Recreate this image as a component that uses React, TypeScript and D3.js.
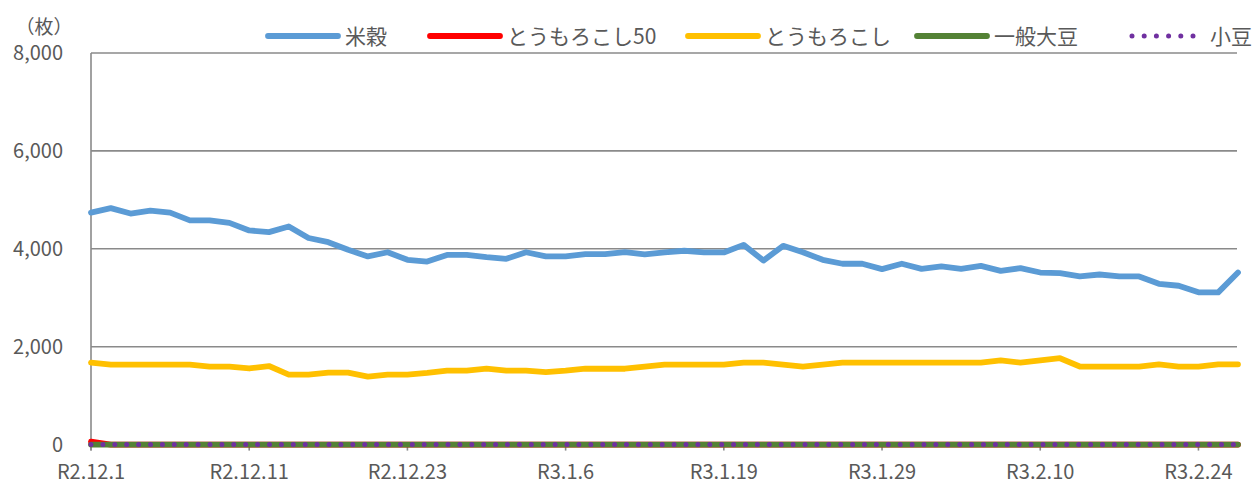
import React, { useEffect, useRef } from "react";
import * as d3 from "d3";

// business days R2.12.1 - R3.2.26
const dates = [
  "R2.12.1", "R2.12.2", "R2.12.3", "R2.12.4", "R2.12.7", "R2.12.8", "R2.12.9", "R2.12.10",
  "R2.12.11", "R2.12.14", "R2.12.15", "R2.12.16", "R2.12.17", "R2.12.18", "R2.12.21", "R2.12.22",
  "R2.12.23", "R2.12.24", "R2.12.25", "R2.12.28", "R2.12.29", "R2.12.30", "R3.1.4", "R3.1.5",
  "R3.1.6", "R3.1.7", "R3.1.8", "R3.1.12", "R3.1.13", "R3.1.14", "R3.1.15", "R3.1.18",
  "R3.1.19", "R3.1.20", "R3.1.21", "R3.1.22", "R3.1.25", "R3.1.26", "R3.1.27", "R3.1.28",
  "R3.1.29", "R3.2.1", "R3.2.2", "R3.2.3", "R3.2.4", "R3.2.5", "R3.2.8", "R3.2.9",
  "R3.2.10", "R3.2.12", "R3.2.15", "R3.2.16", "R3.2.17", "R3.2.18", "R3.2.19", "R3.2.22",
  "R3.2.24", "R3.2.25", "R3.2.26",
];

const rice = [
  4740, 4830, 4720, 4780, 4740, 4580, 4580, 4530, 4375, 4340, 4455, 4220, 4135, 3980, 3845, 3930,
  3775, 3740, 3875, 3875, 3830, 3795, 3930, 3845, 3845, 3890, 3890, 3930, 3885, 3925, 3960, 3925,
  3925, 4080, 3760, 4060, 3930, 3775, 3695, 3695, 3585, 3695, 3590, 3640, 3590, 3650, 3550, 3605,
  3515, 3505, 3435, 3475, 3435, 3435, 3285, 3245, 3110, 3110, 3515,
];

const corn50 = [
  60, 0, 0, 0, 0, 0, 0, 0, 0, 0, 0, 0, 0, 0, 0, 0, 0, 0, 0, 0, 0, 0, 0, 0, 0, 0, 0, 0, 0, 0,
  0, 0, 0, 0, 0, 0, 0, 0, 0, 0, 0, 0, 0, 0, 0, 0, 0, 0, 0, 0, 0, 0, 0, 0, 0, 0, 0, 0, 0,
];

const corn = [
  1675, 1635, 1635, 1635, 1635, 1635, 1595, 1595, 1555, 1605, 1430, 1430, 1470, 1470, 1390, 1430,
  1430, 1465, 1510, 1510, 1550, 1510, 1510, 1480, 1510, 1550, 1550, 1550, 1595, 1635, 1635, 1635,
  1635, 1675, 1675, 1635, 1595, 1635, 1675, 1675, 1675, 1675, 1675, 1675, 1675, 1675, 1720, 1675,
  1720, 1765, 1595, 1595, 1595, 1595, 1640, 1595, 1595, 1640, 1640,
];

const soybean = dates.map(() => 0);
const azuki = dates.map(() => 0);

const yTicks = [0, 2000, 4000, 6000, 8000];

const series = [
  { name: "米穀", values: rice, color: "#5B9BD5", dotted: false },
  { name: "とうもろこし50", values: corn50, color: "#FF0000", dotted: false },
  { name: "とうもろこし", values: corn, color: "#FFC000", dotted: false },
  { name: "一般大豆", values: soybean, color: "#548235", dotted: false },
  { name: "小豆", values: azuki, color: "#7030A0", dotted: true },
];

// legend line start x for each item
const legendX = [268, 430, 688, 917, 1132];

const W = 1259;
const H = 486;
const FONT = "'Noto Sans CJK JP', 'Noto Sans', sans-serif";
const TEXT = "#595959";
const GRID = "#8a8a8a";

export default function App() {
  const ref = useRef<SVGSVGElement>(null);

  useEffect(() => {
    document.body.style.margin = "0";
    const svg = d3.select(ref.current);
    svg.selectAll("*").remove();

    const x = d3
      .scalePoint<number>()
      .domain(dates.map((d, i) => i))
      .range([91, 1238]);
    const y = d3.scaleLinear().domain([0, 8000]).range([444.6, 53]);

    // gridlines
    svg
      .append("g")
      .selectAll("line")
      .data(yTicks.filter((t) => t > 0))
      .join("line")
      .attr("x1", 91)
      .attr("x2", 1237)
      .attr("y1", (d) => y(d))
      .attr("y2", (d) => y(d))
      .attr("stroke", GRID)
      .attr("stroke-width", 1.6);

    // y axis line
    svg
      .append("line")
      .attr("x1", 91)
      .attr("x2", 91)
      .attr("y1", y(8000))
      .attr("y2", y(0) + 6)
      .attr("stroke", GRID)
      .attr("stroke-width", 1.6);

    // x axis ticks
    const tickIdx = dates.map((d, i) => i).filter((i) => i % 8 === 0);
    svg
      .append("g")
      .selectAll("line")
      .data(tickIdx)
      .join("line")
      .attr("x1", (d) => x(d)!)
      .attr("x2", (d) => x(d)!)
      .attr("y1", y(0))
      .attr("y2", y(0) + 6)
      .attr("stroke", GRID)
      .attr("stroke-width", 1.6);

    // y labels
    svg
      .append("g")
      .selectAll("text")
      .data(yTicks)
      .join("text")
      .attr("x", 63)
      .attr("y", (d) => y(d))
      .attr("dy", "0.36em")
      .attr("text-anchor", "end")
      .attr("font-family", FONT)
      .attr("font-size", 20)
      .attr("fill", TEXT)
      .text((d) => d3.format(",")(d));

    // x labels
    svg
      .append("g")
      .selectAll("text")
      .data(tickIdx)
      .join("text")
      .attr("x", (d) => x(d)!)
      .attr("y", 479)
      .attr("text-anchor", "middle")
      .attr("font-family", FONT)
      .attr("font-size", 20)
      .attr("fill", TEXT)
      .text((d) => dates[d]);

    // unit label
    svg
      .append("text")
      .attr("x", 44)
      .attr("y", 34)
      .attr("text-anchor", "middle")
      .attr("font-family", FONT)
      .attr("font-size", 19)
      .attr("fill", TEXT)
      .text("（枚）");

    const line = d3
      .line<number>()
      .x((d, i) => x(i)!)
      .y((d) => y(d));

    series.forEach((s) => {
      svg
        .append("path")
        .datum(s.values)
        .attr("fill", "none")
        .attr("stroke", s.color)
        .attr("stroke-width", s.dotted ? 5 : 5.8)
        .attr("stroke-linejoin", "round")
        .attr("stroke-linecap", "round")
        .attr("stroke-dasharray", s.dotted ? "0 11.9" : null)
        .attr("d", line);
    });

    // legend
    const legend = svg.append("g");
    series.forEach((s, i) => {
      const lx = legendX[i];
      const lineW = s.dotted ? 61 : 70;
      legend
        .append("line")
        .attr("x1", lx)
        .attr("x2", lx + lineW)
        .attr("y1", 36)
        .attr("y2", 36)
        .attr("stroke", s.color)
        .attr("stroke-width", s.dotted ? 5 : 5.8)
        .attr("stroke-linecap", "round")
        .attr("stroke-dasharray", s.dotted ? "0 12.2" : null);
      legend
        .append("text")
        .attr("x", lx + (s.dotted ? 78 : 77))
        .attr("y", 36)
        .attr("dy", "0.36em")
        .attr("font-family", FONT)
        .attr("font-size", 21)
        .attr("fill", TEXT)
        .text(s.name);
    });
  }, []);

  return <svg ref={ref} width={W} height={H} style={{ display: "block" }} />;
}
